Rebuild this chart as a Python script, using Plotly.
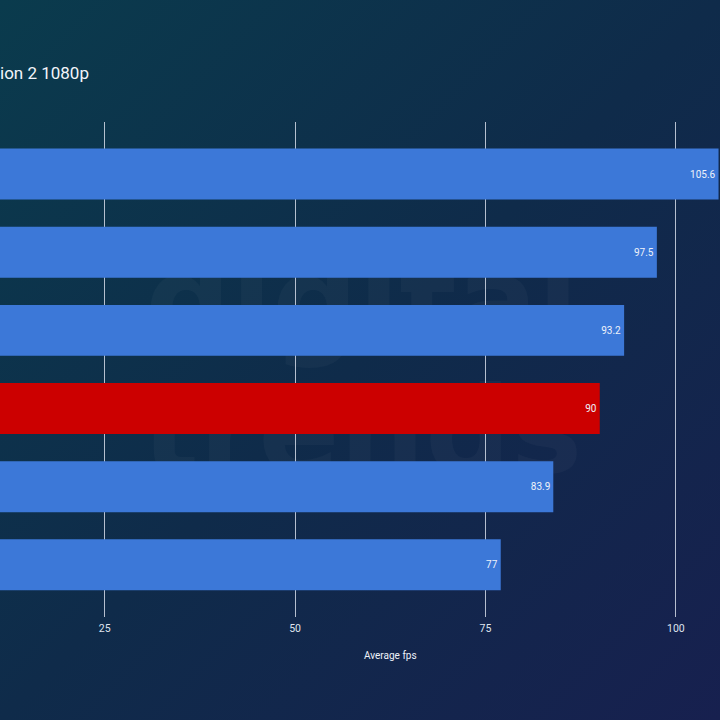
import base64
import plotly.graph_objects as go

# ---- data ----
gpus = ["GPU 1", "GPU 2", "GPU 3", "GPU 4", "GPU 5", "GPU 6"]
fps = [105.6, 97.5, 93.2, 90, 83.9, 77]
highlight = [False, False, False, True, False, False]
x_ticks = [25, 50, 75, 100]
title_text = "ion 2 1080p"
x_title = "Average fps"
watermark_words = ["digital", "trends"]

BLUE = "#3c78d8"
RED = "#cc0000"
bar_colors = [RED if h else BLUE for h in highlight]

# background gradient (decorative)
svg = (
    '<svg xmlns="http://www.w3.org/2000/svg" width="720" height="720" viewBox="0 0 720 720">'
    '<defs><linearGradient id="g" x1="0" y1="0" x2="1" y2="1">'
    '<stop offset="0" stop-color="#0a3b4d"/>'
    '<stop offset="0.5" stop-color="#0f2b4a"/>'
    '<stop offset="1" stop-color="#17204f"/>'
    '</linearGradient></defs>'
    '<rect width="720" height="720" fill="url(#g)"/></svg>'
)
bg_src = "data:image/svg+xml;base64," + base64.b64encode(svg.encode()).decode()

fig = go.Figure()

# faint watermark (drawn on the lower subplot so it sits beneath bars and grid)
fig.add_trace(go.Scatter(
    x=[362, 362], y=[312, 442], text=watermark_words, mode="text",
    textposition="middle center",
    textfont=dict(family="DejaVu Sans", size=120, color="rgba(255,255,255,0.03)", weight="bold"),
    hoverinfo="skip", showlegend=False, xaxis="x", yaxis="y",
))

fig.add_trace(go.Bar(
    y=gpus, x=fps, orientation="h", marker=dict(color=bar_colors, line=dict(width=0)),
    width=0.652, texttemplate="%{x}", textposition="inside", insidetextanchor="end",
    textangle=0, insidetextfont=dict(family="Roboto", size=10, color="#eef2fa"),
    showlegend=False, xaxis="x2", yaxis="y2",
))

fig.update_layout(
    width=720, height=720,
    margin=dict(l=0, r=0, t=0, b=0),
    paper_bgcolor="#0f2b4a",
    plot_bgcolor="rgba(0,0,0,0)",
    images=[dict(source=bg_src, xref="paper", yref="paper", x=0, y=1, sizex=1, sizey=1,
                 xanchor="left", yanchor="top", sizing="stretch", layer="below")],
    xaxis=dict(domain=[0, 1], range=[0, 720], visible=False, fixedrange=True),
    yaxis=dict(domain=[0, 1], range=[720, 0], visible=False, fixedrange=True),
    xaxis2=dict(domain=[0, 1], anchor="y2", range=[11.25, 105.79], tickvals=x_ticks,
                showgrid=True, gridcolor="rgba(210,217,230,0.85)", gridwidth=1,
                zeroline=False, showline=False, ticks="", ticklabelstandoff=4,
                tickfont=dict(family="Roboto", size=10.5, color="#dfe4ee")),
    yaxis2=dict(domain=[0.1431, 0.8306], anchor="x2", type="category",
                range=[5.667, -0.667], showticklabels=False, showgrid=False,
                zeroline=False, showline=False, ticks=""),
    annotations=[
        dict(text=title_text, xref="paper", yref="paper", x=-2.5 / 720, y=1 - 73 / 720,
             xanchor="left", yanchor="middle", showarrow=False,
             font=dict(family="Roboto", size=17, color="#f2f5fa")),
        dict(text=x_title, xref="paper", yref="paper", x=390 / 720, y=1 - 655 / 720,
             xanchor="center", yanchor="middle", showarrow=False,
             font=dict(family="Roboto", size=10, color="#eef2fa")),
    ],
)

fig.write_html("out.html")
